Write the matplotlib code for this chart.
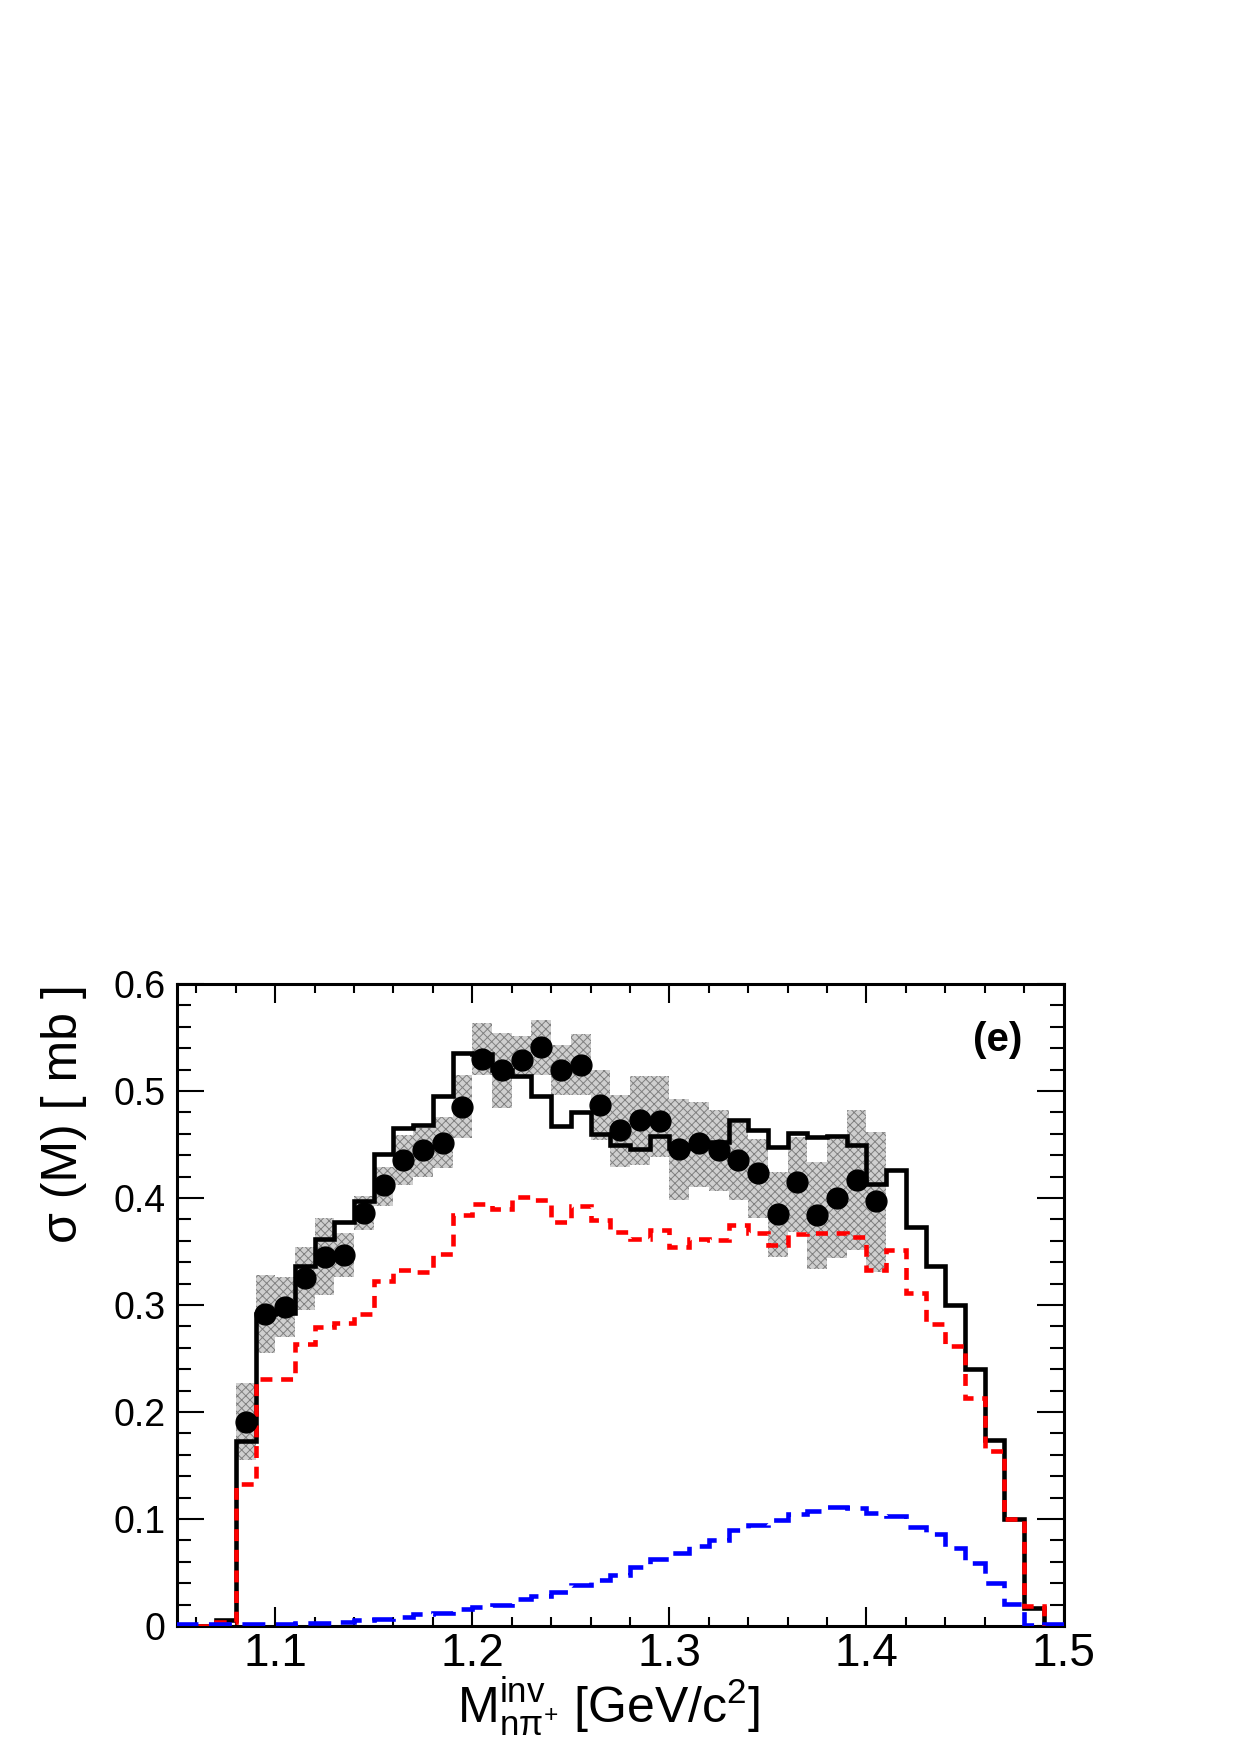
import numpy as np
import matplotlib.pyplot as plt
from matplotlib.ticker import MultipleLocator

plt.rcParams['font.family'] = ['Liberation Sans', 'DejaVu Sans']
plt.rcParams['mathtext.fontset'] = 'custom'
plt.rcParams['mathtext.rm'] = 'Liberation Sans'
plt.rcParams['mathtext.it'] = 'Liberation Sans:italic'
plt.rcParams['mathtext.bf'] = 'Liberation Sans:bold'
plt.rcParams['hatch.linewidth'] = 0.7

# bin edges 1.05 ... 1.50, width 0.01
edges = np.round(np.linspace(1.05, 1.50, 46), 3)

# full model (solid black)
total = [0, 0, 0.006, 0.173, 0.292, 0.293, 0.336, 0.362, 0.378, 0.397,
         0.441, 0.465, 0.468, 0.495, 0.536, 0.535, 0.520, 0.514, 0.495, 0.467,
         0.480, 0.460, 0.450, 0.446, 0.458, 0.447, 0.450, 0.452, 0.473, 0.464,
         0.448, 0.461, 0.457, 0.458, 0.450, 0.413, 0.426, 0.373, 0.336, 0.300,
         0.240, 0.174, 0.100, 0.0165, 0]

# red dashed component
red = [0, 0, 0.004, 0.133, 0.231, 0.231, 0.264, 0.279, 0.283, 0.292,
       0.322, 0.333, 0.331, 0.348, 0.384, 0.394, 0.390, 0.401, 0.398, 0.378,
       0.3925, 0.379, 0.3685, 0.362, 0.370, 0.354, 0.362, 0.361, 0.375, 0.367,
       0.356, 0.366, 0.367, 0.367, 0.364, 0.333, 0.351, 0.311, 0.282, 0.262,
       0.213, 0.164, 0.0997, 0.0187, 0]

# blue long-dashed component
blue = [0.002, 0.002, 0.002, 0.002, 0.002, 0.002, 0.003, 0.003, 0.004, 0.0055,
        0.007, 0.0087, 0.011, 0.0125, 0.0156, 0.018, 0.020, 0.025, 0.028, 0.032,
        0.038, 0.043, 0.048, 0.055, 0.063, 0.0685, 0.075, 0.080, 0.090, 0.094,
        0.099, 0.105, 0.1075, 0.1115, 0.110, 0.106, 0.103, 0.093, 0.086, 0.0726,
        0.0586, 0.040, 0.0206, 0.001, 0.002]

# data points (bin centres 1.085 ... 1.405)
data = [0.191, 0.292, 0.298, 0.325, 0.345, 0.347, 0.386, 0.412, 0.436, 0.445,
        0.451, 0.485, 0.530, 0.520, 0.529, 0.541, 0.520, 0.524, 0.487, 0.464,
        0.473, 0.472, 0.446, 0.451, 0.445, 0.436, 0.423, 0.385, 0.415, 0.384,
        0.400, 0.417, 0.397]

# systematic band
sys_lo = [0.155, 0.255, 0.270, 0.295, 0.309, 0.326, 0.370, 0.393, 0.412, 0.420,
          0.428, 0.456, 0.515, 0.484, 0.515, 0.515, 0.496, 0.496, 0.454, 0.429,
          0.431, 0.438, 0.398, 0.410, 0.407, 0.398, 0.381, 0.345, 0.368, 0.334,
          0.344, 0.351, 0.331]
sys_hi = [0.227, 0.328, 0.326, 0.354, 0.381, 0.367, 0.402, 0.429, 0.459, 0.465,
          0.476, 0.515, 0.564, 0.554, 0.551, 0.566, 0.543, 0.553, 0.520, 0.496,
          0.514, 0.514, 0.493, 0.490, 0.482, 0.470, 0.455, 0.424, 0.457, 0.434,
          0.456, 0.482, 0.462]

centers = edges[3:36] + 0.005

fig = plt.figure(figsize=(12.4, 17.55), dpi=100)
ax = fig.add_axes([0.1425, 0.0735, 0.7152, 0.3658])

lo = np.array(sys_lo)
hi = np.array(sys_hi)
ax.bar(centers, hi - lo, bottom=lo, width=0.01, facecolor='#cfcfcf',
       edgecolor='#808080', hatch='xxxx', linewidth=0, zorder=1)

ax.stairs(total, edges, color='black', lw=3.3, zorder=2)
ax.stairs(red, edges, color='#ff0000', lw=3.3, linestyle=(0, (2.6, 1.9)), zorder=3)
ax.stairs(blue, edges, color='#0000ff', lw=3.3, linestyle=(0, (5.0, 2.3)), zorder=3)
ax.plot(centers, data, 'o', color='black', ms=15, zorder=4)

ax.set_xlim(1.05, 1.5)
ax.set_ylim(0, 0.6)
ax.set_xticks([1.1, 1.2, 1.3, 1.4, 1.5], ['1.1', '1.2', '1.3', '1.4', '1.5'])
ax.set_yticks([0, 0.1, 0.2, 0.3, 0.4, 0.5, 0.6],
              ['0', '0.1', '0.2', '0.3', '0.4', '0.5', '0.6'])
ax.xaxis.set_minor_locator(MultipleLocator(0.02))
ax.yaxis.set_minor_locator(MultipleLocator(0.02))
ax.tick_params(which='both', direction='in', top=True, right=True, width=1.5)
ax.tick_params(axis='x', which='major', length=14, labelsize=33, pad=4)
ax.tick_params(axis='x', which='minor', length=6.5)
ax.tick_params(axis='y', which='major', length=19.5, labelsize=27, pad=8)
ax.tick_params(axis='y', which='minor', length=10)
for s in ax.spines.values():
    s.set_linewidth(2.2)

ax.text(0.926, 0.913, '(e)', transform=ax.transAxes, fontsize=29,
        fontweight='bold', ha='center', va='center')
ax.text(-0.127, 1.0, 'σ (M) [ mb ]', transform=ax.transAxes, rotation=90,
        ha='center', va='top', fontsize=36)
ax.text(0.4864, -0.151, r'$\mathregular{M^{inv}_{nπ^{+}}}$ [GeV/c$\mathregular{^{2}}$]',
        transform=ax.transAxes, ha='center', va='baseline', fontsize=36)

fig.savefig('out.png', dpi=100, facecolor='white')
